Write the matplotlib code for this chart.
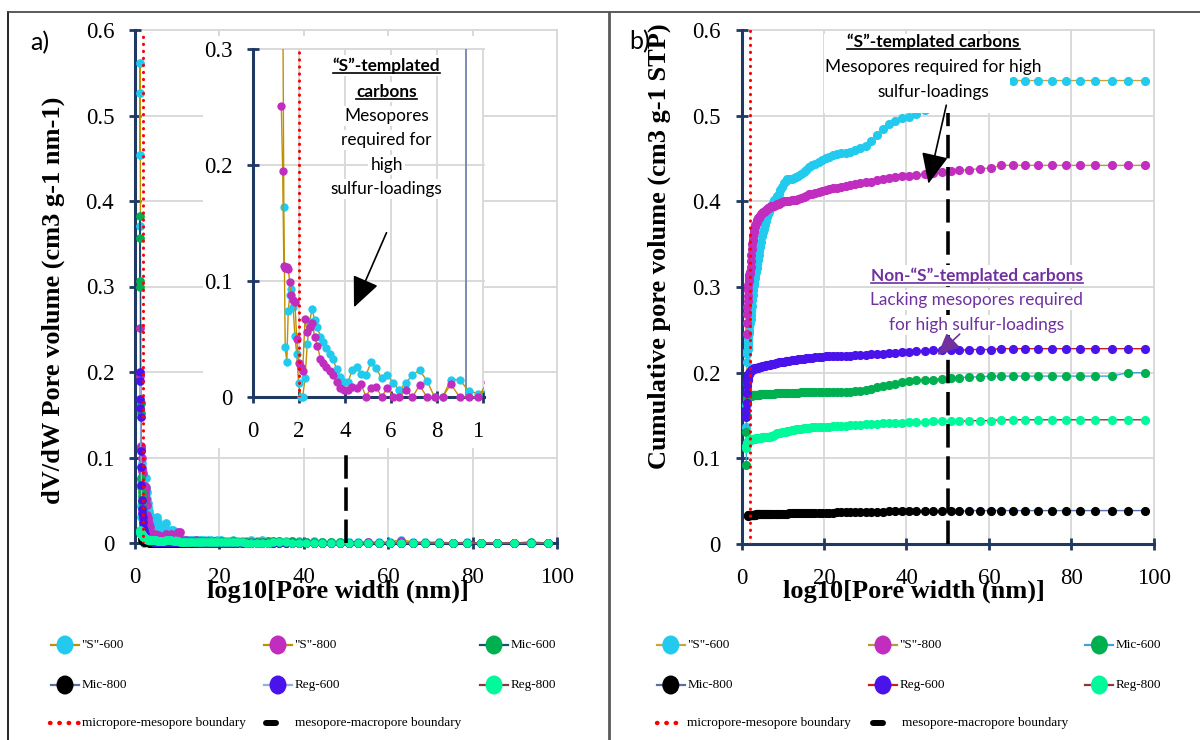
import numpy as np
import matplotlib
matplotlib.use("Agg")
import matplotlib.pyplot as plt
from matplotlib.lines import Line2D
from matplotlib.patches import Ellipse, Rectangle, FancyArrowPatch
from matplotlib.transforms import Bbox

nan = np.nan

# ---------------- data ----------------
SERIES = ['"S"-600', '"S"-800', 'Mic-600', 'Mic-800', 'Reg-600', 'Reg-800']
BOUNDARY_LABELS = ['micropore-mesopore boundary', 'mesopore-macropore boundary']
MICRO_MESO = 2
MESO_MACRO = 50

X_TICKS = [0, 20, 40, 60, 80, 100]
X_TICK_LABELS = ['0', '20', '40', '60', '80', '100']
Y_TICKS = [0, 0.1, 0.2, 0.3, 0.4, 0.5, 0.6]
Y_TICK_LABELS = ['0', '0.1', '0.2', '0.3', '0.4', '0.5', '0.6']
INSET_X_TICKS = [0, 2, 4, 6, 8, 10]
INSET_X_LABELS = ['0', '2', '4', '6', '8', '10']
INSET_Y_TICKS = [0, 0.1, 0.2, 0.3]
INSET_Y_LABELS = ['0', '0.1', '0.2', '0.3']

# pore widths (nm)
W = [1.13, 1.18, 1.23, 1.29, 1.34, 1.40, 1.47, 1.53, 1.60, 1.67,
     1.74, 1.82, 1.90, 1.98, 2.07, 2.16, 2.26, 2.36, 2.46, 2.57,
     2.68, 2.80, 2.93, 3.06, 3.19, 3.33, 3.48, 3.63, 3.79, 3.96,
     4.13, 4.31, 4.50, 4.70, 4.91, 5.13, 5.35, 5.59, 5.84, 6.09,
     6.36, 6.64, 6.93, 7.24, 7.56, 7.89, 8.24, 8.60, 8.98, 9.38,
     9.79, 10.2, 10.7, 11.1, 11.6, 12.2, 12.7, 13.3, 13.8, 14.4,
     15.1, 15.7, 16.4, 17.2, 17.9, 18.7, 19.5, 20.4, 21.3, 22.2,
     23.2, 24.2, 25.3, 26.4, 27.6, 28.8, 30.1, 31.4, 32.8, 34.2,
     35.7, 37.3, 38.9, 40.6, 42.4, 44.4, 46.4, 48.6, 50.7, 52.8,
     55.2, 57.8, 60.4, 63.0, 65.9, 68.8, 72.0, 75.4, 78.7, 82.0,
     85.8, 89.8, 93.8, 97.9]

# dV/dW (cm3 g-1 nm-1)
dv_s600 = [0.454, 0.561, 0.526, 0.371, 0.164, 0.043, 0.030, 0.074, 0.088, 0.093,
           0.078, 0.053, 0.037, 0.012, 0.000, 0.000, 0.016, 0.046, 0.065, 0.076,
           0.066, 0.060, 0.052, 0.047, 0.042, 0.037, 0.033, 0.024, 0.017, 0.013,
           0.013, 0.023, 0.026, 0.020, 0.019, 0.030, 0.025, 0.016, 0.019, 0.012,
           0.006, 0.012, 0.019, 0.023, 0.014, 0.000, 0.000, 0.015, 0.015, 0.005,
           0.003, 0.005, 0.004, 0.005, 0.004, 0.004, 0.004, 0.003, 0.004, 0.003,
           0.003, 0.004, 0.003, 0.003, 0.003, 0.002, 0.003, 0.003, 0.002, 0.002,
           0.003, 0.002, 0.002, 0.002, 0.003, 0.002, 0.003, 0.002, 0.002, 0.002,
           0.002, 0.002, 0.002, 0.001, 0.002, 0.001, 0.001, 0.001, 0.001, 0.001,
           0.001, 0.001, 0.001, 0.004, 0.001, 0.001, 0.001, 0.000, 0.001, 0.000,
           0.000, 0.000, 0.000, 0.000]
dv_s800 = [nan, nan, 0.251, 0.195, 0.113, 0.111, 0.112, 0.110, 0.099, 0.088,
           0.084, 0.082, 0.050, 0.029, 0.026, 0.022, 0.067, 0.056, 0.060, 0.064,
           0.052, 0.044, 0.033, 0.029, 0.026, 0.022, 0.019, 0.013, 0.008, 0.006,
           0.006, 0.009, 0.008, 0.011, 0.000, 0.008, 0.009, 0.000, 0.008, 0.000,
           0.000, 0.006, 0.000, 0.010, 0.000, 0.000, 0.000, 0.011, 0.000, 0.000,
           0.000, 0.013, 0.013, 0.003, 0.002, 0.003, 0.002, 0.002, 0.002, 0.003,
           0.002, 0.002, 0.002, 0.002, 0.001, 0.002, 0.001, 0.002, 0.001, 0.001,
           0.002, 0.001, 0.001, 0.001, 0.001, 0.001, 0.001, 0.001, 0.001, 0.001,
           0.001, 0.001, 0.000, 0.001, 0.000, 0.000, 0.000, 0.000, 0.000, 0.000,
           0.001, 0.000, 0.000, 0.002, 0.000, 0.000, 0.000, 0.000, 0.000, 0.000,
           0.000, 0.000, 0.000, 0.000]
dv_mic600 = [0.300, 0.382, 0.357, 0.307, 0.164, 0.152, 0.076, 0.066, 0.060, 0.055,
             0.048, 0.040, 0.030, 0.022, 0.016, 0.012, 0.009, 0.008, 0.007, 0.006,
             0.006, 0.005, 0.005, 0.005, 0.004, 0.004, 0.004, 0.004, 0.003, 0.003,
             0.003, 0.003, 0.003, 0.003, 0.002, 0.002, 0.002, 0.002, 0.002, 0.002,
             0.002, 0.002, 0.002, 0.002, 0.002, 0.002, 0.002, 0.002, 0.002, 0.001,
             0.001, 0.001, 0.001, 0.001, 0.001, 0.001, 0.001, 0.001, 0.001, 0.001,
             0.001, 0.001, 0.001, 0.001, 0.001, 0.001, 0.001, 0.001, 0.001, 0.001,
             0.001, 0.001, 0.001, 0.001, 0.001, 0.001, 0.001, 0.002, 0.002, 0.002,
             0.001, 0.002, 0.001, 0.001, 0.001, 0.001, 0.001, 0.001, 0.000, 0.000,
             0.000, 0.000, 0.000, 0.000, 0.000, 0.000, 0.000, 0.000, 0.000, 0.000,
             0.000, 0.000, 0.001, 0.000]
dv_mic800 = [nan, nan, nan, nan, nan, nan, nan, nan, 0.010, 0.006,
             0.004, 0.003, 0.002, 0.002, 0.002, 0.001, 0.001, 0.001, 0.001, 0.001,
             0.001, 0.001, 0.001, 0.001, 0.001, 0.000, 0.000, 0.000, 0.000, 0.000,
             0.000, 0.000, 0.000, 0.000, 0.000, 0.000, 0.000, 0.000, 0.000, 0.000,
             0.000, 0.000, 0.000, 0.000, 0.000, 0.000, 0.000, 0.000, 0.000, 0.000,
             0.000, 0.000, 0.000, 0.000, 0.000, 0.000, 0.000, 0.000, 0.000, 0.000,
             0.000, 0.000, 0.000, 0.000, 0.000, 0.000, 0.000, 0.000, 0.000, 0.000,
             0.000, 0.000, 0.000, 0.000, 0.000, 0.000, 0.000, 0.000, 0.000, 0.000,
             0.000, 0.000, 0.000, 0.000, 0.000, 0.000, 0.000, 0.000, 0.000, 0.000,
             0.000, 0.000, 0.000, 0.000, 0.000, 0.000, 0.000, 0.000, 0.000, 0.000,
             0.000, 0.000, 0.000, 0.000]
dv_reg600 = [0.158, 0.200, 0.190, 0.168, 0.147, 0.108, 0.089, 0.068, 0.050, 0.040,
             0.035, 0.030, 0.025, 0.019, 0.015, 0.012, 0.010, 0.008, 0.007, 0.006,
             0.005, 0.004, 0.004, 0.003, 0.003, 0.003, 0.002, 0.002, 0.002, 0.002,
             0.002, 0.001, 0.001, 0.001, 0.001, 0.001, 0.001, 0.001, 0.001, 0.001,
             0.001, 0.001, 0.001, 0.001, 0.001, 0.001, 0.001, 0.001, 0.001, 0.001,
             0.001, 0.001, 0.001, 0.001, 0.001, 0.001, 0.001, 0.001, 0.001, 0.001,
             0.000, 0.000, 0.000, 0.000, 0.000, 0.000, 0.000, 0.000, 0.000, 0.000,
             0.000, 0.000, 0.000, 0.000, 0.000, 0.000, 0.000, 0.000, 0.000, 0.000,
             0.000, 0.000, 0.000, 0.000, 0.000, 0.000, 0.000, 0.000, 0.000, 0.000,
             0.000, 0.000, 0.000, 0.000, 0.000, 0.000, 0.000, 0.000, 0.000, 0.000,
             0.000, 0.000, 0.000, 0.000]
dv_reg800 = [0.015, 0.014, 0.013, 0.012, 0.012, 0.011, 0.011, 0.010, 0.010, 0.009,
             0.009, 0.008, 0.008, 0.007, 0.007, 0.007, 0.006, 0.006, 0.006, 0.005,
             0.005, 0.005, 0.005, 0.004, 0.004, 0.004, 0.004, 0.004, 0.003, 0.003,
             0.003, 0.003, 0.003, 0.003, 0.003, 0.002, 0.002, 0.002, 0.002, 0.002,
             0.002, 0.002, 0.002, 0.003, 0.003, 0.003, 0.003, 0.003, 0.002, 0.002,
             0.002, 0.002, 0.001, 0.001, 0.001, 0.001, 0.001, 0.001, 0.001, 0.001,
             0.001, 0.001, 0.001, 0.001, 0.001, 0.001, 0.001, 0.001, 0.001, 0.001,
             0.001, 0.001, 0.001, 0.000, 0.000, 0.000, 0.000, 0.000, 0.001, 0.001,
             0.001, 0.000, 0.000, 0.000, 0.000, 0.000, 0.000, 0.000, 0.000, 0.000,
             0.000, 0.000, 0.000, 0.000, 0.000, 0.000, 0.000, 0.000, 0.000, 0.000,
             0.000, 0.000, 0.000, 0.000]

# cumulative pore volume (cm3 g-1 STP)
cum_s600 = [0.137, 0.162, 0.188, 0.213, 0.222, 0.225, 0.228, 0.232, 0.236, 0.241,
            0.246, 0.250, 0.254, 0.258, 0.261, 0.263, 0.267, 0.272, 0.278, 0.285,
            0.291, 0.297, 0.302, 0.306, 0.310, 0.314, 0.318, 0.322, 0.327, 0.332,
            0.337, 0.342, 0.347, 0.353, 0.359, 0.364, 0.368, 0.372, 0.377, 0.382,
            0.385, 0.388, 0.391, 0.395, 0.398, 0.401, 0.403, 0.406, 0.409, 0.413,
            0.417, 0.421, 0.424, 0.426, 0.426, 0.426, 0.427, 0.428, 0.430, 0.432,
            0.434, 0.437, 0.440, 0.442, 0.444, 0.446, 0.448, 0.450, 0.452, 0.454,
            0.455, 0.456, 0.457, 0.458, 0.460, 0.462, 0.465, 0.470, 0.478, 0.484,
            0.490, 0.494, 0.497, 0.499, 0.502, 0.507, 0.512, 0.517, 0.521, 0.525,
            0.529, 0.532, 0.535, 0.538, 0.541, 0.541, 0.541, 0.541, 0.541, 0.541,
            0.541, 0.541, 0.541, 0.541]
cum_s800 = [nan, nan, 0.245, 0.258, 0.268, 0.277, 0.284, 0.290, 0.296, 0.302,
            0.307, 0.311, 0.314, 0.316, 0.318, 0.323, 0.330, 0.337, 0.344, 0.350,
            0.355, 0.360, 0.364, 0.367, 0.370, 0.372, 0.374, 0.376, 0.378, 0.380,
            0.381, 0.382, 0.383, 0.385, 0.386, 0.387, 0.388, 0.389, 0.390, 0.391,
            0.392, 0.392, 0.393, 0.394, 0.394, 0.395, 0.396, 0.397, 0.397, 0.398,
            0.399, 0.400, 0.400, 0.400, 0.400, 0.401, 0.401, 0.402, 0.403, 0.404,
            0.405, 0.406, 0.408, 0.409, 0.410, 0.411, 0.412, 0.413, 0.414, 0.415,
            0.416, 0.417, 0.418, 0.419, 0.420, 0.421, 0.422, 0.423, 0.425, 0.426,
            0.427, 0.428, 0.429, 0.430, 0.431, 0.432, 0.433, 0.434, 0.435, 0.436,
            0.437, 0.438, 0.439, 0.442, 0.442, 0.442, 0.442, 0.442, 0.442, 0.442,
            0.442, 0.442, 0.442, 0.442]
cum_mic600 = [0.092, 0.131, 0.150, 0.163, 0.168, 0.171, 0.172, 0.173, 0.173, 0.173,
              0.173, 0.173, 0.173, 0.173, 0.173, 0.173, 0.173, 0.173, 0.174, 0.174,
              0.174, 0.174, 0.174, 0.174, 0.174, 0.174, 0.174, 0.174, 0.174, 0.174,
              0.174, 0.174, 0.175, 0.175, 0.175, 0.175, 0.175, 0.175, 0.175, 0.175,
              0.175, 0.175, 0.175, 0.175, 0.175, 0.175, 0.176, 0.176, 0.176, 0.176,
              0.176, 0.176, 0.176, 0.176, 0.176, 0.176, 0.176, 0.176, 0.176, 0.177,
              0.177, 0.177, 0.177, 0.177, 0.177, 0.177, 0.177, 0.178, 0.178, 0.178,
              0.178, 0.178, 0.178, 0.178, 0.179, 0.179, 0.180, 0.181, 0.183, 0.185,
              0.186, 0.187, 0.189, 0.190, 0.191, 0.192, 0.192, 0.193, 0.194, 0.194,
              0.195, 0.195, 0.196, 0.196, 0.196, 0.196, 0.196, 0.196, 0.196, 0.196,
              0.196, 0.196, 0.200, 0.200]
cum_mic800 = [nan, nan, nan, nan, nan, nan, nan, nan, 0.033, 0.034,
              0.034, 0.034, 0.034, 0.034, 0.034, 0.034, 0.034, 0.034, 0.034, 0.034,
              0.034, 0.034, 0.034, 0.034, 0.034, 0.034, 0.035, 0.035, 0.035, 0.035,
              0.035, 0.035, 0.035, 0.035, 0.035, 0.035, 0.035, 0.035, 0.035, 0.035,
              0.035, 0.035, 0.035, 0.035, 0.035, 0.035, 0.035, 0.035, 0.035, 0.035,
              0.035, 0.035, 0.035, 0.035, 0.036, 0.036, 0.036, 0.036, 0.036, 0.036,
              0.036, 0.036, 0.036, 0.036, 0.036, 0.036, 0.036, 0.036, 0.036, 0.036,
              0.037, 0.037, 0.037, 0.037, 0.037, 0.037, 0.037, 0.037, 0.037, 0.037,
              0.038, 0.038, 0.038, 0.038, 0.038, 0.038, 0.038, 0.038, 0.038, 0.038,
              0.039, 0.039, 0.039, 0.039, 0.039, 0.039, 0.039, 0.039, 0.039, 0.039,
              0.039, 0.039, 0.039, 0.039]
cum_reg600 = [0.148, 0.156, 0.165, 0.176, 0.184, 0.189, 0.192, 0.194, 0.196, 0.197,
              0.198, 0.199, 0.200, 0.201, 0.201, 0.202, 0.202, 0.203, 0.203, 0.203,
              0.204, 0.204, 0.204, 0.205, 0.205, 0.205, 0.206, 0.206, 0.206, 0.206,
              0.207, 0.207, 0.207, 0.207, 0.208, 0.208, 0.208, 0.208, 0.209, 0.209,
              0.209, 0.209, 0.209, 0.210, 0.210, 0.210, 0.211, 0.211, 0.212, 0.212,
              0.213, 0.213, 0.214, 0.214, 0.214, 0.215, 0.215, 0.215, 0.216, 0.216,
              0.216, 0.217, 0.217, 0.217, 0.218, 0.218, 0.218, 0.219, 0.219, 0.219,
              0.220, 0.220, 0.220, 0.220, 0.221, 0.221, 0.221, 0.222, 0.222, 0.222,
              0.223, 0.223, 0.224, 0.224, 0.225, 0.225, 0.226, 0.226, 0.226, 0.226,
              0.227, 0.227, 0.227, 0.228, 0.228, 0.228, 0.228, 0.228, 0.228, 0.228,
              0.228, 0.228, 0.228, 0.228]
cum_reg800 = [0.112, 0.114, 0.116, 0.117, 0.118, 0.118, 0.119, 0.119, 0.120, 0.120,
              0.120, 0.121, 0.121, 0.121, 0.121, 0.122, 0.122, 0.122, 0.122, 0.122,
              0.123, 0.123, 0.123, 0.123, 0.123, 0.123, 0.124, 0.124, 0.124, 0.124,
              0.124, 0.124, 0.124, 0.124, 0.125, 0.125, 0.125, 0.125, 0.125, 0.125,
              0.125, 0.125, 0.125, 0.126, 0.126, 0.127, 0.128, 0.129, 0.130, 0.130,
              0.131, 0.131, 0.131, 0.132, 0.132, 0.133, 0.133, 0.134, 0.134, 0.134,
              0.135, 0.135, 0.135, 0.136, 0.136, 0.136, 0.137, 0.137, 0.137, 0.138,
              0.138, 0.138, 0.138, 0.139, 0.139, 0.139, 0.140, 0.140, 0.140, 0.141,
              0.141, 0.141, 0.141, 0.142, 0.142, 0.142, 0.143, 0.143, 0.143, 0.143,
              0.144, 0.144, 0.144, 0.145, 0.145, 0.145, 0.145, 0.145, 0.145, 0.145,
              0.145, 0.145, 0.145, 0.145]

DV = [dv_s600, dv_s800, dv_mic600, dv_mic800, dv_reg600, dv_reg800]
CUM = [cum_s600, cum_s800, cum_mic600, cum_mic800, cum_reg600, cum_reg800]
for arr in DV + CUM:
    assert len(arr) == len(W)

# ---------------- style ----------------
SERIF = 'Liberation Serif'
SANS = 'Lato'
NAVY = '#1f3864'
GRID = '#d9d9d9'
MARK = ['#22cbee', '#c02dbf', '#00b050', '#000000', '#4b13ec', '#00f99a']
LINE_A = ['#bf9000', '#bf9000', '#1f4e79', '#5a6fa6', '#8fb0e0', '#8b3a3a']
LINE_B = ['#c9a53a', '#b89a3a', '#3fa3db', '#5a6fa6', '#d01c1c', '#8b3a3a']

FW, FH = 1200.0, 740.0
fig = plt.figure(figsize=(12, 7.4), dpi=100)


def P(x, y):
    return (x / FW, 1 - y / FH)


def rect(l, t, r, b):
    return [l / FW, 1 - b / FH, (r - l) / FW, (b - t) / FH]


def style(ax, xlim, ylim, xt, xtl, yt, ytl):
    ax.set_xlim(*xlim)
    ax.set_ylim(*ylim)
    ax.set_xticks(xt)
    ax.set_yticks(yt)
    ax.set_xticklabels(xtl, fontfamily=SERIF, fontsize=16.5)
    ax.set_yticklabels(ytl, fontfamily=SERIF, fontsize=16.5)
    ax.grid(True, color=GRID, lw=1.4)
    ax.set_axisbelow(True)
    for gl in ax.get_xgridlines() + ax.get_ygridlines():
        gl.set_clip_on(False)
    for s in ('top', 'right'):
        ax.spines[s].set_visible(False)
    for s in ('left', 'bottom'):
        ax.spines[s].set_color(NAVY)
        ax.spines[s].set_linewidth(2.2)
    ax.tick_params(axis='both', direction='inout', length=8, width=2, color=NAVY)
    ax.tick_params(axis='y', pad=11)
    ax.tick_params(axis='x', pad=13)
    ax.patch.set_alpha(0)


axA = fig.add_axes(rect(135, 30, 557, 543))
axB = fig.add_axes(rect(741.6, 30, 1153.8, 544))
axI = fig.add_axes(rect(253, 49, 484, 397), zorder=3)

style(axA, (0, 100), (0, 0.6), X_TICKS, X_TICK_LABELS, Y_TICKS, Y_TICK_LABELS)
style(axB, (0, 100), (0, 0.6), X_TICKS, X_TICK_LABELS, Y_TICKS, Y_TICK_LABELS)
style(axI, (0, 10.04), (0, 0.3), INSET_X_TICKS, INSET_X_LABELS, INSET_Y_TICKS, INSET_Y_LABELS)
axI.patch.set_alpha(1)
axI.patch.set_facecolor('white')

# white backdrop for inset area
fig.add_artist(Rectangle(P(203, 448), (484 - 203) / FW, (448 - 36) / FH,
                         transform=fig.transFigure, fc='white', ec='none', zorder=2))

# clip last inset tick label ("10" cropped to "1")
lab = axI.get_xticklabels()[-1]
lab.set_clip_box(Bbox([[0, 0], [484, FH]]))
lab.set_clip_on(True)

# ---------------- series ----------------
for i, name in enumerate(SERIES):
    axA.plot(W, DV[i], '-', color=LINE_A[i], lw=1.0, marker='o', ms=6.3,
             mfc=MARK[i], mec=MARK[i], mew=0, zorder=3 + 0.01 * i, clip_on=False)
    axB.plot(W, CUM[i], '-', color=LINE_B[i], lw=1.0, marker='o', ms=6.6,
             mfc=MARK[i], mec=MARK[i], mew=0, zorder=3 + 0.01 * i, clip_on=False)

clipR = Rectangle((-0.1, -0.1), 1.1, 1.1, transform=axI.transAxes)
for i in (0, 1):
    ln, = axI.plot(W, DV[i], '-', color=LINE_A[i], lw=1.0, marker='o', ms=6,
                   mfc=MARK[i], mec=MARK[i], mew=0, zorder=3 + 0.01 * i)
    ln.set_clip_path(clipR)

# boundaries
for ax in (axA, axB, axI):
    ax.axvline(MICRO_MESO, color='red', lw=2.2, ls=(0, (0.1, 2.2)),
               dash_capstyle='round', zorder=4.2)
for ax in (axA, axB):
    ax.axvline(MESO_MACRO, color='black', lw=2.6, ls=(0, (6.5, 2.4)), zorder=4)
axI.axvline(9.26, color='#7b8bb3', lw=1.4, zorder=1)

# white box hiding the S-600 curve behind the annotation in panel b
axB.add_patch(Rectangle((20, 0.503), 45, 0.092, fc='white', ec='none', zorder=4.5))

# ---------------- labels ----------------
fig.text(*P(53.6, 300), 'dV/dW Pore volume (cm3 g-1 nm-1)', rotation=90, ha='center',
         va='center', family=SERIF, weight='bold', fontsize=19, zorder=6)
fig.text(*P(659, 246), 'Cumulative pore volume (cm3 g-1 STP)', rotation=90, ha='center',
         va='center', family=SERIF, weight='bold', fontsize=19, zorder=6)
fig.text(*P(337.7, 598), 'log10[Pore width (nm)]', ha='center', va='baseline',
         family=SERIF, weight='bold', fontsize=19, zorder=6)
fig.text(*P(914, 598), 'log10[Pore width (nm)]', ha='center', va='baseline',
         family=SERIF, weight='bold', fontsize=19, zorder=6)
fig.text(*P(30, 43), 'a)', ha='left', va='center', family=SANS, fontsize=18, zorder=6)
fig.text(*P(629, 42), 'b)', ha='left', va='center', family=SANS, fontsize=18, zorder=6)

# annotations
ANN = 12.4
under = []
def ann(x, y, s, bold=False, color='black', ul=False, bg=True):
    t = fig.text(*P(x, y), s, ha='center', va='center', family=SANS, fontsize=ANN,
                 weight='bold' if bold else 'normal', color=color, zorder=7,
                 bbox=dict(fc='white', ec='none', pad=1.5) if bg else None)
    if ul:
        under.append((t, color))
    return t

ann(386.5, 65.8, '\u201cS\u201d-templated', bold=True, ul=True)
ann(386.5, 91.8, 'carbons', bold=True, ul=True)
ann(386.5, 115.6, 'Mesopores')
ann(386.5, 140.4, 'required for')
ann(386.5, 165.3, 'high')
ann(386.5, 189.4, 'sulfur-loadings')

ann(933.3, 42.1, '\u201cS\u201d-templated carbons', bold=True, ul=True, bg=False)
ann(933.3, 67.4, 'Mesopores required for high', bg=False)
ann(933.7, 91.8, 'sulfur-loadings', bg=False)

PURPLE = '#7030a0'
ann(977, 275.5, 'Non-\u201cS\u201d-templated carbons', bold=True, ul=True, color=PURPLE)
ann(976.4, 300.4, 'Lacking mesopores required', color=PURPLE)
ann(976.4, 325.3, 'for high sulfur-loadings', color=PURPLE)

def arrow(p0, p1, color, ms):
    fig.add_artist(FancyArrowPatch(P(*p0), P(*p1), transform=fig.transFigure,
                                   arrowstyle='-|>,head_length=0.9,head_width=0.4',
                                   mutation_scale=ms, color=color, lw=1.2,
                                   shrinkA=0, shrinkB=0, zorder=8))

arrow((386.5, 232.7), (354, 307.3), 'black', 21)
arrow((946.3, 105.2), (928.4, 183.7), 'black', 21)
arrow((959.7, 334.1), (937.5, 355.1), PURPLE, 15)

fig.canvas.draw()
r = fig.canvas.get_renderer()
for t, c in under:
    bb = t.get_window_extent(renderer=r)
    y = bb.y0 + 1
    fig.add_artist(Line2D([bb.x0 / FW, bb.x1 / FW], [y / FH, y / FH],
                          transform=fig.transFigure, color=c, lw=1.2, zorder=8))

# ---------------- legends ----------------
def legend(marker_xs, row_ys, row3, line_cols):
    for i, name in enumerate(SERIES):
        mx = marker_xs[i % 3]
        my = row_ys[i // 3]
        fig.add_artist(Line2D([(mx - 14) / FW, (mx + 14) / FW], [1 - my / FH] * 2,
                              transform=fig.transFigure, color=line_cols[i], lw=1.6, zorder=5))
        fig.add_artist(Ellipse(P(mx, my), 17 / FW, 19 / FH, transform=fig.transFigure,
                               fc=MARK[i], ec='none', zorder=6))
        fig.text(*P(mx + 16.5, my), name, ha='left', va='center', family=SERIF,
                 fontsize=9.5, zorder=6)
    (d0, d1, tx0), (k0, k1, tx1), y3 = row3
    fig.add_artist(Line2D([d0 / FW, d1 / FW], [1 - y3 / FH] * 2, transform=fig.transFigure,
                          color='red', lw=3.2, ls=(0, (0.1, 2.0)), dash_capstyle='round'))
    fig.text(*P(tx0, y3), BOUNDARY_LABELS[0], ha='left', va='center', family=SERIF, fontsize=9.5)
    fig.add_artist(Line2D([k0 / FW, k1 / FW], [1 - y3 / FH] * 2, transform=fig.transFigure,
                          color='black', lw=4.3, solid_capstyle='round'))
    fig.text(*P(tx1, y3), BOUNDARY_LABELS[1], ha='left', va='center', family=SERIF, fontsize=9.5)

legend([65, 278, 494], [645, 685], ((50, 78.5, 81.5), (266, 276, 294.7), 723), LINE_A)
legend([670.8, 883, 1099.4], [645, 685], ((656.6, 684.2, 687), (872.5, 882.5, 901.6), 723), LINE_B)

# panel frames
fig.add_artist(Line2D([8 / FW, 8 / FW], [1 - 12 / FH, 0], transform=fig.transFigure,
                      color='black', lw=1.2))
fig.add_artist(Line2D([8 / FW, 1], [1 - 12 / FH, 1 - 12 / FH], transform=fig.transFigure,
                      color='#404040', lw=1.2))
fig.add_artist(Line2D([609 / FW, 609 / FW], [1 - 12 / FH, 0], transform=fig.transFigure,
                      color='#595959', lw=2.0))

fig.savefig('out.png', dpi=100, facecolor='white')
